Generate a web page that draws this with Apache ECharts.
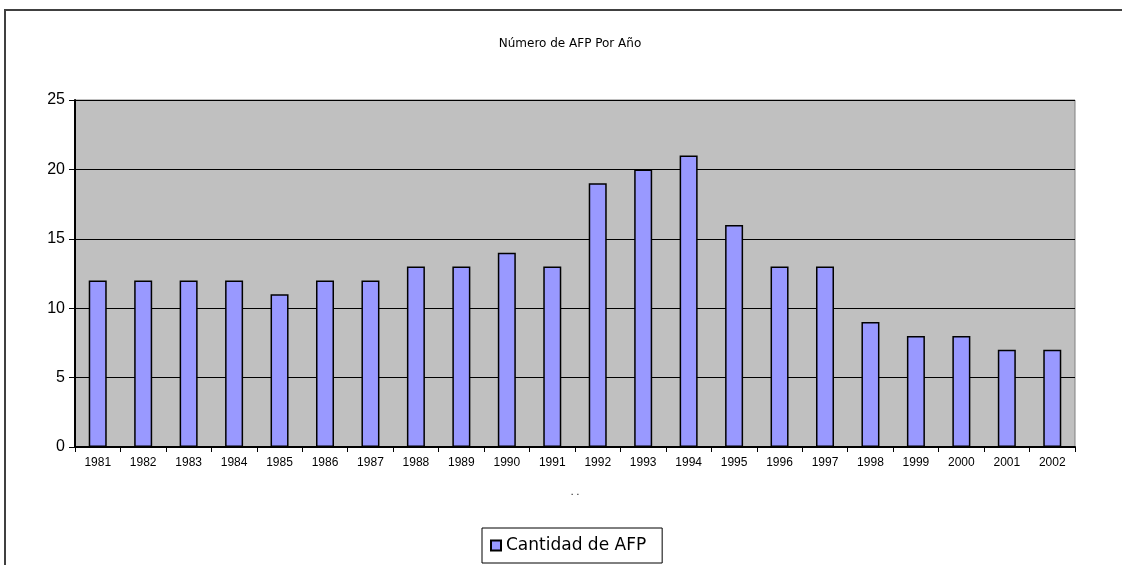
<!DOCTYPE html>
<html><head><meta charset="utf-8">
<script src="https://cdn.jsdelivr.net/npm/echarts@6/dist/echarts.min.js"></script>
<style>html,body{margin:0;padding:0;background:#fff}#c{width:1122px;height:565px}</style>
</head><body><div id="c"></div>
<script>
const categories = ['1981','1982','1983','1984','1985','1986','1987','1988','1989','1990','1991','1992','1993','1994','1995','1996','1997','1998','1999','2000','2001','2002'];
const values = [12,12,12,12,11,12,12,13,13,14,13,19,20,21,16,13,13,9,8,8,7,7];
const seriesName = 'Cantidad de AFP';
const titleText = 'Número de AFP Por Año';

const chart = echarts.init(document.getElementById('c'), null, {renderer:'canvas'});
chart.setOption({
  animation:false,
  backgroundColor:'#fff',
  title:{text:titleText,left:565,textAlign:'center',top:33,textStyle:{fontFamily:'DejaVu Sans, Arial',fontSize:12,fontWeight:'normal',color:'#000'}},
  graphic:[{type:'rect',shape:{x:5,y:10,width:1200,height:700},style:{fill:'none',stroke:'#404040',lineWidth:2},z:-1}],
  grid:{left:75,top:100,width:1000,height:347,show:true,backgroundColor:'#C0C0C0',borderColor:'#808080',borderWidth:1},
  legend:{bottom:2,left:482,data:[seriesName],itemWidth:10,itemHeight:10,itemGap:5,icon:'rect',
    backgroundColor:'#fff',borderColor:'#000',borderWidth:1,padding:[9,16,9,8],borderRadius:0,
    textStyle:{fontFamily:'DejaVu Sans, Arial',fontSize:17,color:'#000'}},
  xAxis:{type:'category',data:categories,boundaryGap:true,
    name:'. .',nameLocation:'middle',nameGap:40,nameTextStyle:{fontSize:10,color:'#000'},
    axisLine:{lineStyle:{color:'#000',width:2}},
    axisTick:{show:true,alignWithLabel:false,length:5,lineStyle:{color:'#000'}},
    axisLabel:{color:'#000',fontFamily:'Liberation Sans Narrow, Liberation Sans, Arial',fontSize:12,margin:10,interval:0}},
  yAxis:{type:'value',min:0,max:25,interval:5,
    axisLine:{show:true,lineStyle:{color:'#000',width:2}},
    axisTick:{show:true,length:6,lineStyle:{color:'#000'}},
    splitLine:{lineStyle:{color:'#000',width:1}},
    axisLabel:{color:'#000',fontFamily:'Liberation Sans, Arial',fontSize:16,margin:10}},
  series:[{name:seriesName,type:'bar',data:values,barWidth:18,
    itemStyle:{color:'#9999FF',borderColor:'#000',borderWidth:1.5}}]
});
</script></body></html>
